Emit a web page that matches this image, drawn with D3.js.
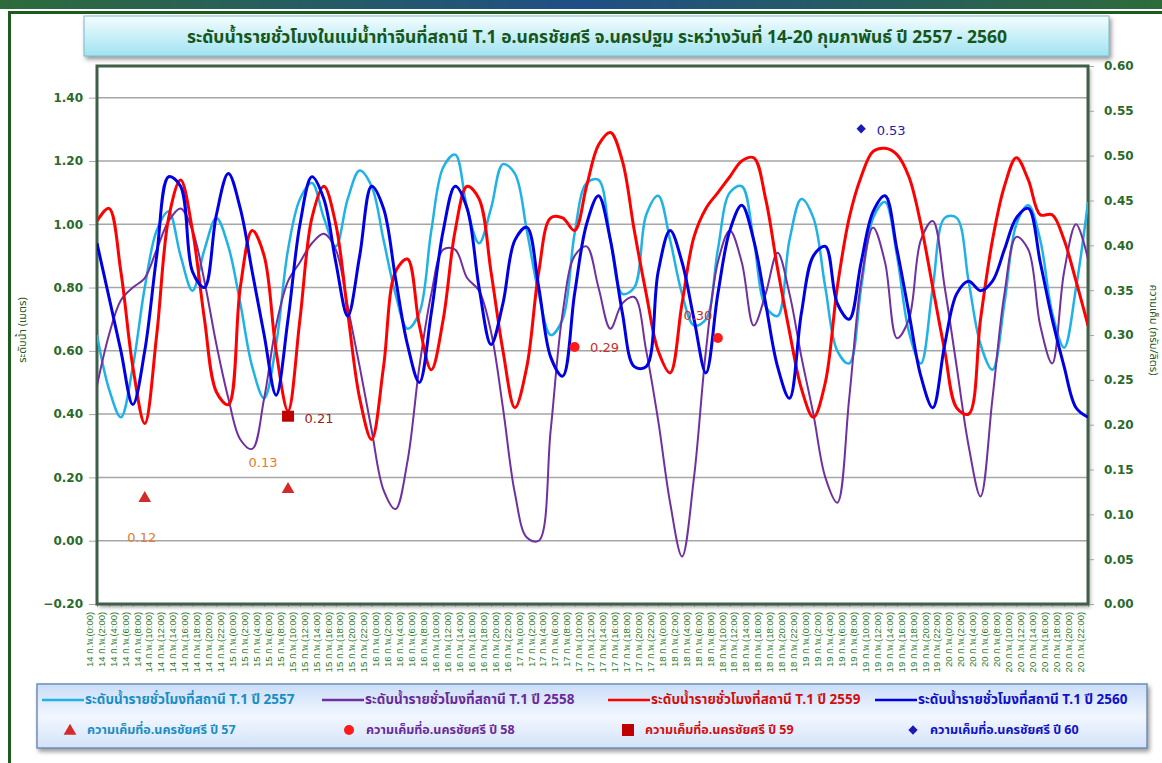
<!DOCTYPE html>
<html>
<head>
<meta charset="utf-8">
<script src="https://cdn.jsdelivr.net/npm/d3@7"></script>
<style>
  body { margin: 0; background: #fff; }
  svg { display: block; font-family: "Noto Sans Thai", "Noto Sans", "DejaVu Sans", sans-serif; }
</style>
</head>
<body>
<svg width="1162" height="763"></svg>
<script>
// categories: 7 days x 12 two-hour slots
const days = [14, 15, 16, 17, 18, 19, 20];
const hours = [0, 2, 4, 6, 8, 10, 12, 14, 16, 18, 20, 22];
const categories = days.flatMap(d => hours.map(h => `${d} ก.พ.(${h}:00)`));

// water level (m), one value per category
const level2557 = [0.65,0.48,0.39,0.55,0.80,0.98,1.04,0.90,0.79,0.92,1.02,0.93,
  0.75,0.55,0.45,0.62,0.92,1.08,1.13,1.02,0.93,1.08,1.17,1.12,
  0.95,0.78,0.67,0.72,0.98,1.18,1.22,1.05,0.94,1.05,1.19,1.16,
  0.98,0.78,0.65,0.70,0.97,1.13,1.14,0.95,0.78,0.80,1.03,1.09,
  0.95,0.78,0.68,0.70,0.92,1.10,1.12,0.95,0.74,0.71,0.95,1.08,
  1.02,0.80,0.60,0.56,0.80,1.02,1.07,0.90,0.66,0.56,0.80,1.02,
  1.02,0.82,0.62,0.54,0.75,1.00,1.06,0.95,0.72,0.61,0.80,1.07];
const level2558 = [0.49,0.65,0.76,0.80,0.83,0.92,1.01,1.05,0.98,0.82,0.62,0.45,
  0.32,0.29,0.45,0.68,0.82,0.88,0.94,0.97,0.92,0.74,0.55,0.35,
  0.16,0.10,0.25,0.55,0.78,0.92,0.92,0.83,0.79,0.66,0.42,0.15,
  0.01,0.00,0.35,0.72,0.90,0.93,0.80,0.67,0.75,0.77,0.60,0.38,
  0.12,-0.05,0.20,0.60,0.88,0.98,0.88,0.68,0.78,0.91,0.78,0.58,
  0.40,0.20,0.12,0.45,0.82,0.99,0.88,0.64,0.70,0.95,1.01,0.80,
  0.55,0.30,0.14,0.45,0.78,0.96,0.92,0.68,0.56,0.85,1.00,0.89];
const level2559 = [1.01,1.05,0.85,0.55,0.37,0.65,1.02,1.14,0.98,0.70,0.47,0.43,
  0.80,0.98,0.90,0.60,0.41,0.70,1.02,1.12,1.00,0.72,0.45,0.32,
  0.55,0.85,0.89,0.68,0.54,0.70,0.98,1.12,1.08,0.85,0.60,0.42,
  0.55,0.85,1.02,1.02,0.98,1.12,1.25,1.29,1.20,0.98,0.78,0.60,
  0.53,0.75,0.96,1.05,1.10,1.15,1.20,1.21,1.08,0.86,0.66,0.48,
  0.39,0.50,0.80,1.02,1.15,1.23,1.24,1.22,1.15,1.00,0.80,0.60,
  0.42,0.40,0.70,0.95,1.12,1.21,1.14,1.03,1.03,0.95,0.82,0.68];
const level2560 = [0.94,0.77,0.60,0.43,0.60,0.90,1.15,1.12,0.85,0.80,1.03,1.16,
  1.05,0.85,0.65,0.46,0.70,1.00,1.15,1.08,0.88,0.71,0.90,1.12,
  1.05,0.83,0.62,0.50,0.72,0.98,1.12,1.05,0.80,0.62,0.75,0.95,
  0.99,0.80,0.58,0.52,0.78,1.00,1.09,0.95,0.72,0.55,0.55,0.85,
  0.98,0.88,0.70,0.53,0.78,0.98,1.06,0.95,0.75,0.55,0.45,0.72,
  0.90,0.93,0.75,0.70,0.88,1.04,1.09,0.92,0.72,0.52,0.42,0.62,
  0.78,0.82,0.79,0.82,0.92,1.02,1.05,0.88,0.70,0.55,0.42,0.39];

// salinity (g/l) at Nakhon Chai Si
const salt57 = [{cat: "14 ก.พ.(8:00)", v: 0.12}, {cat: "15 ก.พ.(8:00)", v: 0.13}];
const salt58 = [{cat: "17 ก.พ.(8:00)", v: 0.29}, {cat: "18 ก.พ.(8:00)", v: 0.30}];
const salt59 = [{cat: "15 ก.พ.(8:00)", v: 0.21}];
const salt60 = [{cat: "19 ก.พ.(8:00)", v: 0.53}];

const leftTicks = [-0.2, 0, 0.2, 0.4, 0.6, 0.8, 1.0, 1.2, 1.4];
const rightTicks = [0, 0.05, 0.1, 0.15, 0.2, 0.25, 0.3, 0.35, 0.4, 0.45, 0.5, 0.55, 0.6];

const svg = d3.select("svg");
const defs = svg.append("defs");
const tg = defs.append("linearGradient").attr("id", "tbox").attr("x1", 0).attr("y1", 0).attr("x2", 0).attr("y2", 1);
tg.append("stop").attr("offset", "0%").attr("stop-color", "#f4fdff");
tg.append("stop").attr("offset", "100%").attr("stop-color", "#9fe3f0");
const lg = defs.append("linearGradient").attr("id", "lbox").attr("x1", 0).attr("y1", 0).attr("x2", 0).attr("y2", 1);
lg.append("stop").attr("offset", "0%").attr("stop-color", "#c9dcf7");
lg.append("stop").attr("offset", "50%").attr("stop-color", "#f2f7ff");
lg.append("stop").attr("offset", "100%").attr("stop-color", "#d3e2f8");
const sh = defs.append("filter").attr("id", "shadow").attr("x", "-5%").attr("y", "-20%").attr("width", "110%").attr("height", "160%");
sh.append("feDropShadow").attr("dx", 2).attr("dy", 3).attr("stdDeviation", 2).attr("flood-color", "#555").attr("flood-opacity", 0.6);

// page frame
const topg = defs.append("linearGradient").attr("id", "topbar").attr("x1", 0).attr("x2", 1);
topg.append("stop").attr("offset", "0%").attr("stop-color", "#2d6b3a");
topg.append("stop").attr("offset", "50%").attr("stop-color", "#1f4f86");
topg.append("stop").attr("offset", "100%").attr("stop-color", "#2d6b3a");
svg.append("rect").attr("x", 0).attr("y", 0).attr("width", 1162).attr("height", 9).attr("fill", "url(#topbar)");
svg.append("rect").attr("x", 8).attr("y", 11).attr("width", 1154).attr("height", 3).attr("fill", "#1d5a1d");
svg.append("rect").attr("x", 8).attr("y", 11).attr("width", 3).attr("height", 752).attr("fill", "#1d5a1d");

// title
svg.append("rect").attr("x", 84).attr("y", 16).attr("width", 1025).attr("height", 40)
  .attr("fill", "url(#tbox)").attr("stroke", "#7fb8c8").attr("filter", "url(#shadow)");
svg.append("text").attr("x", 597).attr("y", 43).attr("text-anchor", "middle")
  .attr("font-size", 17.5).attr("font-weight", "bold").attr("fill", "#17561a")
  .text("ระดับน้ำรายชั่วโมงในแม่น้ำท่าจีนที่สถานี T.1 อ.นครชัยศรี จ.นครปฐม ระหว่างวันที่ 14-20 กุมภาพันธ์  ปี 2557 - 2560");

const L = 97, R = 1088, T = 66, B = 604;
const x = d3.scalePoint().domain(categories).range([L, R]);
const y = d3.scaleLinear().domain([-0.2, 1.5]).range([B, T]);
const y2 = d3.scaleLinear().domain([0, 0.6]).range([B, T]);

// plot frame
svg.append("rect").attr("x", L).attr("y", T).attr("width", R - L).attr("height", B - T)
  .attr("fill", "#fff").attr("filter", "url(#shadow)");

// grid
svg.append("g").selectAll("line").data(leftTicks).join("line")
  .attr("x1", L).attr("x2", R).attr("y1", d => y(d)).attr("y2", d => y(d))
  .attr("stroke", "#a6a6a6").attr("stroke-width", 1.5);

// left axis
const ga = svg.append("g").attr("transform", `translate(${L},0)`)
  .call(d3.axisLeft(y).tickValues(leftTicks).tickFormat(d3.format(".2f")).tickSize(8).tickPadding(6));
ga.select(".domain").remove();
ga.selectAll("line").attr("stroke", "#a6a6a6");
ga.selectAll("text").attr("font-size", 12).attr("font-weight", "bold").attr("fill", "#2a6a2a")
  .attr("font-family", "Verdana, 'DejaVu Sans', sans-serif");

// right axis
const gr = svg.append("g").attr("transform", `translate(${R},0)`)
  .call(d3.axisRight(y2).tickValues(rightTicks).tickFormat(d3.format(".2f")).tickSize(6).tickPadding(10));
gr.select(".domain").remove();
gr.selectAll("line").attr("stroke", "#a6a6a6");
gr.selectAll("text").attr("font-size", 12).attr("font-weight", "bold").attr("fill", "#2a6a2a")
  .attr("font-family", "Verdana, 'DejaVu Sans', sans-serif");

// axis titles
svg.append("text").attr("transform", "translate(26,330) rotate(-90)").attr("text-anchor", "middle")
  .attr("font-size", 11).attr("fill", "#1d5a1d").text("ระดับน้ำ (เมตร)");
svg.append("text").attr("transform", "translate(1150,330) rotate(90)").attr("text-anchor", "middle")
  .attr("font-size", 11).attr("fill", "#1d5a1d").text("ความเค็ม (กรัม/ลิตร)");

// x axis
const gx = svg.append("g").attr("transform", `translate(0,${B})`)
  .call(d3.axisBottom(x).tickSize(3).tickPadding(4));
gx.select(".domain").attr("stroke", "#8a9a8a");
gx.selectAll("line").attr("stroke", "#8a9a8a");
gx.selectAll("text").attr("transform", "rotate(-90)").attr("text-anchor", "end")
  .attr("dx", "-0.4em").attr("dy", "-0.5em").attr("y", 0).attr("x", -4)
  .attr("font-size", 9.5).attr("fill", "#2a7a2a");

// border over plot
svg.append("rect").attr("x", L).attr("y", T).attr("width", R - L).attr("height", B - T)
  .attr("fill", "none").attr("stroke", "#3f5f47").attr("stroke-width", 3);

// lines
const series = [
  {vals: level2557, color: "#1fb2e6", w: 2.5},
  {vals: level2558, color: "#7030a0", w: 2},
  {vals: level2559, color: "#ff0000", w: 3},
  {vals: level2560, color: "#0000e6", w: 3}
];
const line = d3.line().x((d, i) => x(categories[i])).y(d => y(d)).curve(d3.curveCatmullRom.alpha(0.5));
const clip = defs.append("clipPath").attr("id", "plotclip");
clip.append("rect").attr("x", L).attr("y", T).attr("width", R - L).attr("height", B - T);
svg.append("g").attr("clip-path", "url(#plotclip)").selectAll("path").data(series).join("path")
  .attr("d", d => line(d.vals)).attr("fill", "none")
  .attr("stroke", d => d.color).attr("stroke-width", d => d.w).attr("stroke-linejoin", "round");

// salinity markers
const tri = d3.symbol().type(d3.symbolTriangle).size(70);
const dia = d3.symbol().type(d3.symbolDiamond2).size(55);
const pts = svg.append("g");
pts.selectAll(".s57").data(salt57).join("path")
  .attr("transform", d => `translate(${x(d.cat)},${y2(d.v) + 2})`).attr("d", tri).attr("fill", "#d42a2a");
pts.selectAll(".s58").data(salt58).join("circle")
  .attr("cx", d => x(d.cat)).attr("cy", d => y2(d.v) + 3).attr("r", 5).attr("fill", "#ff1a1a");
pts.selectAll(".s59").data(salt59).join("rect")
  .attr("x", d => x(d.cat) - 6).attr("y", d => y2(d.v) - 5).attr("width", 12).attr("height", 11).attr("fill", "#c00000");
pts.selectAll(".s60").data(salt60).join("path")
  .attr("transform", d => `translate(${x(d.cat)},${y2(d.v)})`).attr("d", dia).attr("fill", "#1a1ab8");

// data labels (offsets from marker)
const labelStyle = [
  {set: salt57, dx: [-3, -25], dy: [46, -20], color: "#e47a2a", anchor: "middle"},
  {set: salt58, dx: [30, -20], dy: [8, -15], color: "#c8302a", anchor: "middle"},
  {set: salt59, dx: [31], dy: [7], color: "#9c1c1c", anchor: "middle"},
  {set: salt60, dx: [30], dy: [6], color: "#2020a8", anchor: "middle"}
];
labelStyle.forEach(s => {
  s.set.forEach((d, i) => {
    svg.append("text").attr("x", x(d.cat) + s.dx[i]).attr("y", y2(d.v) + s.dy[i])
      .attr("text-anchor", s.anchor).attr("font-size", 13).attr("fill", s.color)
      .attr("font-family", "Verdana, 'DejaVu Sans', sans-serif")
      .text(d3.format(".2f")(d.v));
  });
});

// legend
svg.append("rect").attr("x", 37).attr("y", 684).attr("width", 1110).attr("height", 64)
  .attr("fill", "url(#lbox)").attr("stroke", "#6f8fb8").attr("stroke-width", 1.5).attr("filter", "url(#shadow)");
const legLines = [
  {x: 42, text: "ระดับน้ำรายชั่วโมงที่สถานี T.1 ปี 2557", color: "#1fb2e6", tc: "#1a8ec4"},
  {x: 322, text: "ระดับน้ำรายชั่วโมงที่สถานี T.1  ปี 2558", color: "#7030a0", tc: "#6a2a98"},
  {x: 608, text: "ระดับน้ำรายชั่วโมงที่สถานี T.1 ปี 2559", color: "#ff0000", tc: "#d01010"},
  {x: 875, text: "ระดับน้ำรายชั่วโมงที่สถานี T.1 ปี 2560", color: "#0000e6", tc: "#1010c8"}
];
const lgL = svg.append("g").selectAll("g").data(legLines).join("g");
lgL.append("line").attr("x1", d => d.x).attr("x2", d => d.x + 42).attr("y1", 700).attr("y2", 700)
  .attr("stroke", d => d.color).attr("stroke-width", 2.5);
lgL.append("text").attr("x", d => d.x + 43).attr("y", 704).attr("font-size", 13.5).attr("font-weight", "bold")
  .attr("fill", d => d.tc).text(d => d.text);

const legPts = [
  {x: 70, kind: "tri", text: "ความเค็มที่อ.นครชัยศรี ปี 57", color: "#d42a2a", tc: "#1a8ec4"},
  {x: 349, kind: "circle", text: "ความเค็มที่อ.นครชัยศรี ปี 58", color: "#ff1a1a", tc: "#6a2a98"},
  {x: 628, kind: "square", text: "ความเค็มที่อ.นครชัยศรี ปี 59", color: "#c00000", tc: "#d01010"},
  {x: 913, kind: "diamond", text: "ความเค็มที่อ.นครชัยศรี ปี 60", color: "#1a1ab8", tc: "#1010c8"}
];
const lgP = svg.append("g").selectAll("g").data(legPts).join("g");
lgP.each(function(d) {
  const g = d3.select(this);
  if (d.kind === "tri") g.append("path").attr("transform", `translate(${d.x},731)`).attr("d", tri).attr("fill", d.color);
  if (d.kind === "circle") g.append("circle").attr("cx", d.x).attr("cy", 730).attr("r", 5).attr("fill", d.color);
  if (d.kind === "square") g.append("rect").attr("x", d.x - 6).attr("y", 724).attr("width", 12).attr("height", 12).attr("fill", d.color);
  if (d.kind === "diamond") g.append("path").attr("transform", `translate(${d.x},730)`).attr("d", dia).attr("fill", d.color);
});
lgP.append("text").attr("x", d => d.x + 17).attr("y", 734).attr("font-size", 12.5).attr("font-weight", "bold")
  .attr("fill", d => d.tc).text(d => d.text);
</script>
</body>
</html>
